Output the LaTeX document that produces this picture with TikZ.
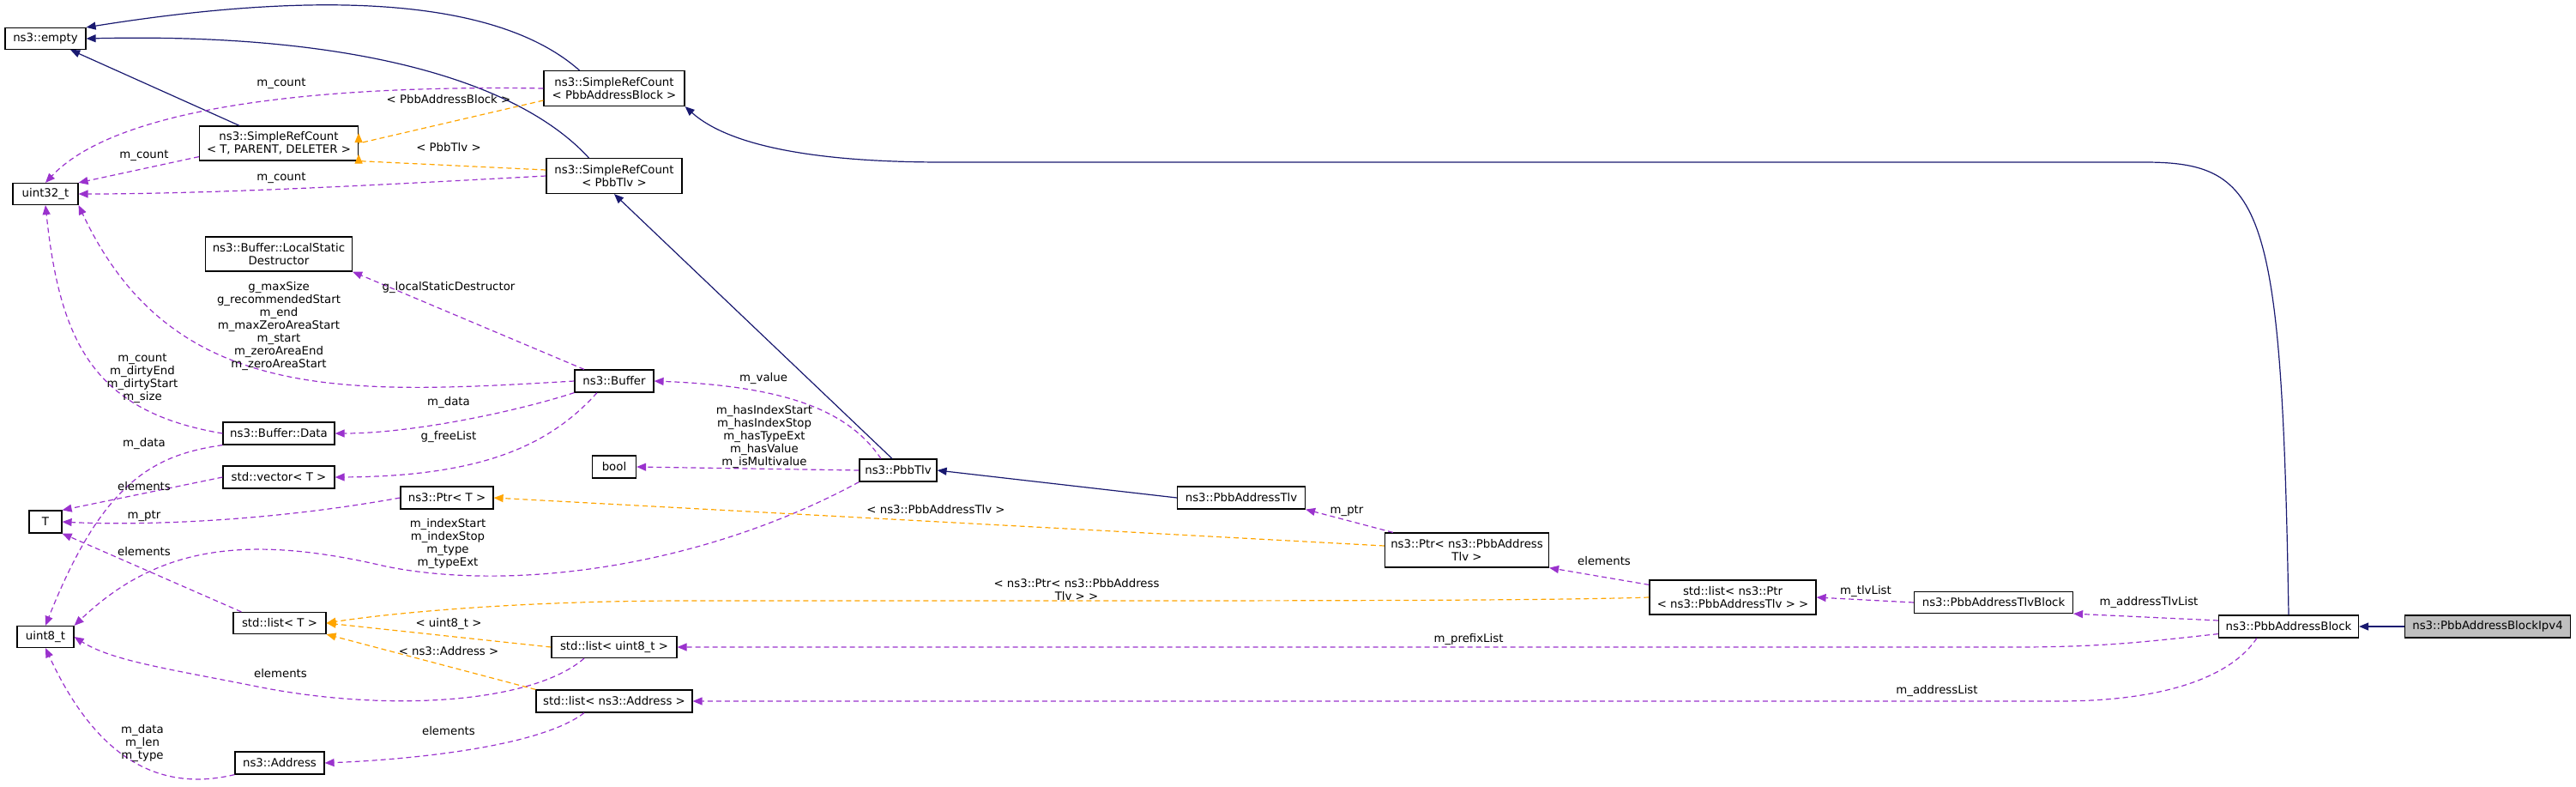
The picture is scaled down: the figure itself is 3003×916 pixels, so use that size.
\documentclass[tikz,border=0pt]{standalone}
\usepackage{fontspec}
\setmainfont{DejaVu Sans}
\usetikzlibrary{arrows.meta}
\newcommand{\lbl}{\fontsize{13.3}{15}\selectfont}
\definecolor{inh}{HTML}{191970}
\definecolor{use}{HTML}{9A32CD}
\definecolor{tpl}{HTML}{FFA500}
\begin{document}
\begin{tikzpicture}[x=1pt,y=-1pt,
  box/.style={draw=black,fill=white,line width=1.2pt,inner sep=0pt,align=center,font=\lbl},
  lab/.style={font=\lbl,align=center,inner sep=0pt},
  tip/.style={-{Triangle[width=9pt,length=11pt]}},
  inhe/.style={tip,draw=inh,line width=1.2pt},
  usee/.style={tip,draw=use,color=use,line width=1.2pt,dash pattern=on 6pt off 4pt},
  tple/.style={tip,draw=tpl,color=tpl,line width=1.2pt,dash pattern=on 6pt off 4pt}]
\useasboundingbox (0,0) rectangle (3003,916);
% nodes
\node[box,minimum width=94,minimum height=25] (empty) at (53,45) {ns3::empty};
\node[box,minimum width=164,minimum height=41] (srcab) at (716,103) {ns3::SimpleRefCount\\< PbbAddressBlock >};
\node[box,minimum width=185,minimum height=40] (srct) at (325,167) {ns3::SimpleRefCount\\< T, PARENT, DELETER >};
\node[box,minimum width=158,minimum height=41] (srctlv) at (716,205) {ns3::SimpleRefCount\\< PbbTlv >};
\node[box,minimum width=76,minimum height=25] (u32) at (53,226) {uint32\_t};
\node[box,minimum width=171,minimum height=40] (lsd) at (325,296) {ns3::Buffer::LocalStatic\\Destructor};
\node[box,minimum width=92,minimum height=26] (buf) at (716,444) {ns3::Buffer};
\node[box,minimum width=130,minimum height=26] (bdata) at (325,505) {ns3::Buffer::Data};
\node[box,minimum width=130,minimum height=26] (vec) at (325,556) {std::vector< T >};
\node[box,minimum width=51,minimum height=26] (bool) at (716,544) {bool};
\node[box,minimum width=90,minimum height=26] (tlv) at (1047,548) {ns3::PbbTlv};
\node[box,minimum width=108,minimum height=26] (ptrt) at (521,580) {ns3::Ptr< T >};
\node[box,minimum width=38,minimum height=26] (T) at (53,608) {T};
\node[box,minimum width=108,minimum height=25] (listt) at (326,726) {std::list< T >};
\node[box,minimum width=66,minimum height=25] (u8) at (53,742) {uint8\_t};
\node[box,minimum width=146,minimum height=25] (listu8) at (716,754) {std::list< uint8\_t >};
\node[box,minimum width=182,minimum height=26] (listaddr) at (716,817) {std::list< ns3::Address >};
\node[box,minimum width=104,minimum height=26] (addr) at (326,889) {ns3::Address};
\node[box,minimum width=149,minimum height=26] (atlv) at (1447,580) {ns3::PbbAddressTlv};
\node[box,minimum width=191,minimum height=40] (ptratlv) at (1710,641) {ns3::Ptr< ns3::PbbAddress\\Tlv >};
\node[box,minimum width=194,minimum height=40] (listptr) at (2020,696) {std::list< ns3::Ptr\\< ns3::PbbAddressTlv > >};
\node[box,minimum width=185,minimum height=25] (atb) at (2324,702) {ns3::PbbAddressTlvBlock};
\node[box,minimum width=163,minimum height=26] (ab) at (2668,730) {ns3::PbbAddressBlock};
\node[box,minimum width=193,minimum height=26,fill=black!25] (ipv4) at (2900,730) {ns3::PbbAddressBlockIpv4};
% inheritance
\draw[inhe] (srcab.north west) ++(42,0) coordinate (s1) .. controls (560,-20) and (300,0) .. (empty.north east);
\draw[inhe] (srctlv.north west) ++(50,0) coordinate (s2) .. controls (600,90) and (400,38) .. (empty.east);
\draw[inhe] (srct) -- (empty);
\draw[inhe] (tlv.north) ++(-7,0) coordinate (s3) -- (srctlv.south);
\draw[inhe] (atlv.west) -- (tlv.east);
\draw[inhe] (ab.north) .. controls (2660,240) and (2640,189) .. (2500,189) -- (1100,189) .. controls (950,189) and (850,170) .. (srcab.south east);
\draw[inhe] (ipv4) -- (ab);
% usage
\draw[usee] (srcab.west) .. controls (450,100) and (150,110) .. (u32.north);
\node[lab] (l1) at (328,97) {m\_count};
\draw[usee] (srct.south west) ++(0,-5) coordinate (s4) -- (u32.north east);
\node[lab] (l2) at (168,181) {m\_count};
\draw[usee] (srctlv.west) .. controls (450,215) and (250,226) .. (u32.east);
\node[lab] (l3) at (328,207) {m\_count};
\draw[usee] (buf.west) .. controls (400,460) and (200,470) .. (u32.south east);
\node[lab] (l4) at (325,380) {g\_maxSize\\g\_recommendedStart\\m\_end\\m\_maxZeroAreaStart\\m\_start\\m\_zeroAreaEnd\\m\_zeroAreaStart};
\draw[usee] (bdata.west) .. controls (110,480) and (70,400) .. (u32.south);
\node[lab] (l5) at (166,441) {m\_count\\m\_dirtyEnd\\m\_dirtyStart\\m\_size};
\draw[usee] (buf.north) ++(-35,0) coordinate (s5) -- (lsd.south east);
\node[lab] (l6) at (523,335) {g\_localStaticDestructor};
\draw[usee] (tlv.north) ++(-20,0) coordinate (s6) .. controls (990,480) and (920,450) .. (buf.east);
\node[lab] (l7) at (890,441) {m\_value};
\draw[usee] (buf.south west) .. controls (600,480) and (480,505) .. (bdata.east);
\node[lab] (l8) at (523,469) {m\_data};
\draw[usee] (buf.south) ++(-20,0) coordinate (s7) .. controls (640,520) and (560,555) .. (vec.east);
\node[lab] (l9) at (523,509) {g\_freeList};
\draw[usee] (tlv.west) -- (bool.east);
\node[lab] (l10) at (891,509) {m\_hasIndexStart\\m\_hasIndexStop\\m\_hasTypeExt\\m\_hasValue\\m\_isMultivalue};
\draw[usee] (bdata.south west) .. controls (180,530) and (120,560) .. (u8.north);
\node[lab] (l11) at (168,517) {m\_data};
\draw[usee] (vec.west) -- (T.north east);
\node[lab] (l12) at (168,567) {elements};
\draw[usee] (ptrt.west) .. controls (300,610) and (150,612) .. (T.east);
\node[lab] (l13) at (168,601) {m\_ptr};
\draw[usee] (listt.north west) ++(10,0) coordinate (s8) -- (T.south east);
\node[lab] (l14) at (168,643) {elements};
\draw[usee] (tlv.south west) .. controls (820,660) and (600,690) .. (450,660) .. controls (280,620) and (180,640) .. (u8.north east);
\node[lab] (l15) at (522,634) {m\_indexStart\\m\_indexStop\\m\_type\\m\_typeExt};
\draw[usee] (listu8.south) ++(-35,0) coordinate (s9) .. controls (620,820) and (450,830) .. (300,800) .. controls (200,780) and (130,770) .. (u8.east);
\node[lab] (l16) at (327,785) {elements};
\draw[usee] (addr.south west) .. controls (200,920) and (120,900) .. (u8.south);
\node[lab] (l17) at (166,866) {m\_data\\m\_len\\m\_type};
\draw[usee] (listaddr.south) ++(-35,0) coordinate (s10) .. controls (630,870) and (480,885) .. (addr.east);
\node[lab] (l18) at (523,852) {elements};
\draw[usee] (ptratlv.north west) ++(10,0) coordinate (s11) -- (atlv.south east);
\node[lab] (l19) at (1570,595) {m\_ptr};
\draw[usee] (listptr.north west) ++(0,6) coordinate (s12) -- (ptratlv.south east);
\node[lab] (l20) at (1870,654) {elements};
\draw[usee] (atb.west) -- (listptr.east);
\node[lab] (l21) at (2175,689) {m\_tlvList};
\draw[usee] (ab.west) ++(0,-7) coordinate (s13) -- (atb.south east);
\node[lab] (l22) at (2505,702) {m\_addressTlvList};
\draw[usee] (ab.south west) ++(0,-5) coordinate (s14) .. controls (2500,748) and (2450,754) .. (2350,754) -- (listu8.east);
\node[lab] (l23) at (1712,745) {m\_prefixList};
\draw[usee] (ab.south west) ++(45,0) coordinate (s15) .. controls (2600,790) and (2520,817) .. (2400,817) -- (listaddr.east);
\node[lab] (l24) at (2258,805) {m\_addressList};
% templates
\draw[tple] (srcab.west) ++(0,14) coordinate (t1) -- (srct.east) ++(0,-12);
\node[lab] (l25) at (523,116) {< PbbAddressBlock >};
\draw[tple] (srctlv.west) ++(0,-7) coordinate (t2) -- (srct.south east) ++(0,-8);
\node[lab] (l26) at (523,172) {< PbbTlv >};
\draw[tple] (ptratlv.west) ++(0,-5) coordinate (t3) -- (ptrt.east);
\node[lab] (l27) at (1091,594) {< ns3::PbbAddressTlv >};
\draw[tple] (listptr.west) .. controls (1800,700) and (1500,700) .. (1200,700) -- (800,700) .. controls (600,700) and (450,715) .. (listt.east);
\node[lab] (l28) at (1255,687) {< ns3::Ptr< ns3::PbbAddress\\Tlv > >};
\draw[tple] (listu8.west) -- (listt.east);
\node[lab] (l29) at (523,727) {< uint8\_t >};
\draw[tple] (listaddr.north west) -- (listt.south east);
\node[lab] (l30) at (523,759) {< ns3::Address >};
\end{tikzpicture}
\end{document}
